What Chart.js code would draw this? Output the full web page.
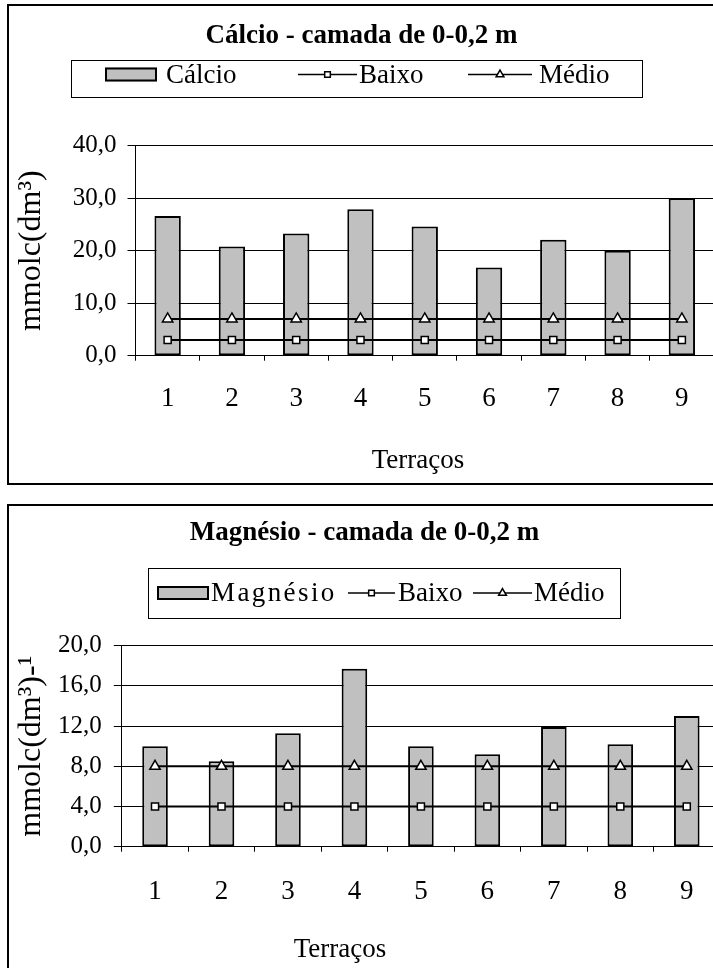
<!DOCTYPE html>
<html lang="pt">
<head>
<meta charset="utf-8">
<title>Cálcio e Magnésio - camada de 0-0,2 m</title>
<script src="https://cdn.jsdelivr.net/npm/chart.js@4.4.1/dist/chart.umd.min.js"></script>
<style>
    html, body { margin: 0; padding: 0; background: #fff; }
    body { width: 713px; height: 968px; overflow: hidden; position: relative; }
    .painel { position: absolute; left: 7px; width: 726px; border: 2px solid #000; box-sizing: border-box; background: #fff; }
    #painelCalcio { top: 4px; height: 481px; }
    #painelMagnesio { top: 504px; height: 480px; }
    canvas { display: block; }
</style>
</head>
<body>
<div class="painel" id="painelCalcio"><canvas id="graficoCalcio" width="722" height="477"></canvas></div>
<div class="painel" id="painelMagnesio"><canvas id="graficoMagnesio" width="722" height="476"></canvas></div>
<script>
// Dados
const terracos = ['1', '2', '3', '4', '5', '6', '7', '8', '9'];

const calcio = [26.6, 20.8, 23.3, 27.9, 24.6, 16.8, 22.1, 20.0, 30.0];
const calcioBaixo = [3.0, 3.0, 3.0, 3.0, 3.0, 3.0, 3.0, 3.0, 3.0];
const calcioMedio = [7.0, 7.0, 7.0, 7.0, 7.0, 7.0, 7.0, 7.0, 7.0];
const calcioEixoY = [0, 10, 20, 30, 40];

const magnesio = [10.0, 8.5, 11.3, 17.7, 10.0, 9.2, 11.9, 10.2, 13.0];
const magnesioBaixo = [4.0, 4.0, 4.0, 4.0, 4.0, 4.0, 4.0, 4.0, 4.0];
const magnesioMedio = [8.0, 8.0, 8.0, 8.0, 8.0, 8.0, 8.0, 8.0, 8.0];
const magnesioEixoY = [0, 4, 8, 12, 16, 20];

const FONTE = "'Liberation Serif', 'Times New Roman', serif";
Chart.defaults.font.family = FONTE;
Chart.defaults.color = '#000';

const virgula = (v) => v.toFixed(1).replace('.', ',');

// Legenda no estilo do Excel (caixa com símbolo de barra e de linha) + título do eixo X
const legendaExcel = {
    id: 'legendaExcel',
    afterDraw: (chart, args, opts) => {
        const ctx = chart.ctx;
        const c = opts.caixa;
        ctx.save();
        ctx.strokeStyle = '#000';
        ctx.lineWidth = 1;
        ctx.strokeRect(c.x + 0.5, c.y + 0.5, c.w, c.h);

        ctx.font = `27px ${FONTE}`;
        ctx.textBaseline = 'middle';
        chart.data.datasets.forEach((ds, i) => {
            const it = opts.itens[i];
            const y = opts.y;
            if (ds.type === 'bar') {
                ctx.fillStyle = ds.backgroundColor;
                ctx.fillRect(it.x0, y - 7, it.x1 - it.x0, 14);
                ctx.lineWidth = 2;
                ctx.strokeStyle = '#000';
                ctx.strokeRect(it.x0 + 1, y - 6, it.x1 - it.x0 - 2, 12);
            } else {
                ctx.strokeStyle = '#000';
                ctx.lineWidth = 1.5;
                ctx.beginPath();
                ctx.moveTo(it.x0, y);
                ctx.lineTo(it.x1, y);
                ctx.stroke();
                ctx.fillStyle = '#fff';
                Chart.helpers.drawPoint(ctx, {
                    pointStyle: ds.pointStyle,
                    radius: ds.pointStyle === 'triangle' ? 4.5 : 4,
                    borderWidth: 1.5,
                    rotation: 0
                }, (it.x0 + it.x1) / 2, y);
            }
            ctx.fillStyle = '#000';
            ctx.letterSpacing = it.espaco || '0px';
            ctx.fillText(ds.label, it.textoX, y + 1);
            ctx.letterSpacing = '0px';
        });

        // título do eixo X
        const ex = opts.eixoX;
        ctx.textAlign = 'center';
        ctx.textBaseline = 'alphabetic';
        ctx.fillText(ex.texto, ex.x, ex.y);
        ctx.restore();
    }
};

function criarGrafico(id, cfg) {
    const ctx = document.getElementById(id).getContext('2d');
    return new Chart(ctx, {
        data: {
            labels: terracos,
            datasets: [
                {
                    type: 'bar',
                    label: cfg.nome,
                    data: cfg.valores,
                    backgroundColor: '#c0c0c0',
                    borderColor: '#000',
                    borderWidth: 2,
                    borderSkipped: false,
                    categoryPercentage: cfg.larguraBarra,
                    barPercentage: 1,
                    order: 1,
                },
                {
                    type: 'line',
                    label: 'Baixo',
                    data: cfg.baixo,
                    borderColor: '#000',
                    borderWidth: 2,
                    pointStyle: 'rect',
                    pointRadius: 5,
                    pointBackgroundColor: '#fff',
                    pointBorderColor: '#000',
                    pointBorderWidth: 1.5,
                    fill: false,
                    order: 0,
                },
                {
                    type: 'line',
                    label: 'Médio',
                    data: cfg.medio,
                    borderColor: '#000',
                    borderWidth: 2,
                    pointStyle: 'triangle',
                    pointRadius: 6,
                    pointBackgroundColor: '#fff',
                    pointBorderColor: '#000',
                    pointBorderWidth: 1.5,
                    fill: false,
                    order: 0,
                },
            ],
        },
        options: {
            responsive: false,
            animation: false,
            devicePixelRatio: 1,
            layout: {
                padding: { left: 0, right: cfg.direita, top: 0, bottom: 0 },
            },
            scales: {
                x: {
                    offset: true,
                    grid: {
                        offset: true,
                        drawOnChartArea: false,
                        drawTicks: true,
                        tickLength: 5,
                        color: '#000',
                    },
                    border: { display: true, color: '#000', width: 1 },
                    ticks: {
                        font: { family: FONTE, size: 27 },
                        padding: cfg.padX,
                        maxRotation: 0,
                    },
                    afterFit: (s) => { s.height = cfg.alturaX; },
                },
                y: {
                    min: cfg.eixoY[0],
                    max: cfg.eixoY[cfg.eixoY.length - 1],
                    grid: {
                        color: '#000',
                        tickLength: 8,
                        drawTicks: true,
                    },
                    border: { display: true, color: '#000', width: 1 },
                    ticks: {
                        stepSize: cfg.eixoY[1] - cfg.eixoY[0],
                        font: { family: FONTE, size: 25 },
                        padding: cfg.padY,
                        callback: (v) => virgula(v),
                    },
                    title: {
                        display: true,
                        text: cfg.tituloY,
                        color: '#000',
                        font: { family: FONTE, size: 32 },
                        padding: { top: 3.7, bottom: 0 },
                    },
                    afterFit: (s) => { s.width = cfg.larguraY; },
                },
            },
            plugins: {
                legend: { display: false },
                tooltip: { enabled: false },
                title: {
                    display: true,
                    text: cfg.titulo,
                    color: '#000',
                    font: { family: FONTE, size: 27, weight: 'bold' },
                    padding: cfg.padTitulo,
                },
                legendaExcel: cfg.legenda,
            },
        },
        plugins: [legendaExcel],
    });
}

criarGrafico('graficoCalcio', {
    titulo: 'Cálcio - camada de 0-0,2 m',
    nome: 'Cálcio',
    valores: calcio,
    baixo: calcioBaixo,
    medio: calcioMedio,
    eixoY: calcioEixoY,
    tituloY: 'mmolc(dm³)',
    larguraBarra: 0.41,
    direita: 17,
    larguraY: 126.5,
    alturaX: 127.3,
    padX: 22,
    padY: 11,
    padTitulo: { top: 13.7, bottom: 93.6 },
    legenda: {
        caixa: { x: 62, y: 54, w: 571, h: 37 },
        y: 68.5,
        itens: [
            { x0: 96, x1: 148, textoX: 157 },
            { x0: 289, x1: 348, textoX: 350 },
            { x0: 459, x1: 523, textoX: 530 },
        ],
        eixoX: { texto: 'Terraços', x: 409, y: 462 },
    },
});

criarGrafico('graficoMagnesio', {
    titulo: 'Magnésio - camada de 0-0,2 m',
    nome: 'Magnésio',
    valores: magnesio,
    baixo: magnesioBaixo,
    medio: magnesioMedio,
    eixoY: magnesioEixoY,
    tituloY: 'mmolc(dm³)-¹',
    larguraBarra: 0.385,
    direita: 11,
    larguraY: 112.8,
    alturaX: 135.3,
    padX: 24,
    padY: 12,
    padTitulo: { top: 10.4, bottom: 96.9 },
    legenda: {
        caixa: { x: 139, y: 62, w: 472, h: 50 },
        y: 87,
        itens: [
            { x0: 148, x1: 200, textoX: 202, espaco: '2.4px' },
            { x0: 339, x1: 386, textoX: 389 },
            { x0: 464, x1: 523, textoX: 525 },
        ],
        eixoX: { texto: 'Terraços', x: 331, y: 451 },
    },
});
</script>
</body>
</html>
